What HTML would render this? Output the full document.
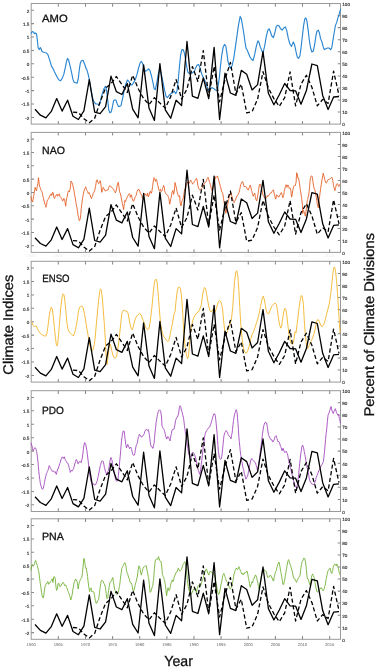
<!DOCTYPE html>
<html><head><meta charset="utf-8"><style>
html,body{margin:0;padding:0;background:#fff;}
svg{display:block;text-rendering:geometricPrecision;}
.tl{font:4.6px "Liberation Sans",sans-serif;fill:#333;stroke:#333;stroke-width:0.15px;text-anchor:end;}
.tr{font:4.6px "Liberation Sans",sans-serif;fill:#333;stroke:#333;stroke-width:0.15px;}
.yr{font:4.2px "Liberation Sans",sans-serif;fill:#666;text-anchor:middle;}
.pn{font:10.6px "Liberation Sans",sans-serif;fill:#111;stroke:#111;stroke-width:0.3px;}
.ax{font:14px "Liberation Sans",sans-serif;fill:#111;stroke:#111;stroke-width:0.3px;}
</style></head><body>
<svg width="375" height="668" viewBox="0 0 375 668">
<rect x="31.2" y="3.5" width="309.3" height="120.6" fill="none" stroke="#9a9a9a" stroke-width="1"/>
<path d="M58.3 3.5v3.2M58.3 124.1v-3.2M85.5 3.5v3.2M85.5 124.1v-3.2M112.6 3.5v3.2M112.6 124.1v-3.2M139.7 3.5v3.2M139.7 124.1v-3.2M166.9 3.5v3.2M166.9 124.1v-3.2M194 3.5v3.2M194 124.1v-3.2M221.1 3.5v3.2M221.1 124.1v-3.2M248.3 3.5v3.2M248.3 124.1v-3.2M275.4 3.5v3.2M275.4 124.1v-3.2M302.5 3.5v3.2M302.5 124.1v-3.2M329.7 3.5v3.2M329.7 124.1v-3.2M31.2 10.2h2.8M31.2 23.6h2.8M31.2 37h2.8M31.2 50.4h2.8M31.2 63.8h2.8M31.2 77.2h2.8M31.2 90.6h2.8M31.2 104h2.8M31.2 117.4h2.8M340.5 112h-2.8M340.5 100h-2.8M340.5 87.9h-2.8M340.5 75.9h-2.8M340.5 63.8h-2.8M340.5 51.7h-2.8M340.5 39.7h-2.8M340.5 27.6h-2.8M340.5 15.6h-2.8" stroke="#8a8a8a" stroke-width="1.05" fill="none"/>
<text x="29.4" y="12.6" class="tl">2</text>
<text x="29.4" y="26" class="tl">1.5</text>
<text x="29.4" y="39.4" class="tl">1</text>
<text x="29.4" y="52.8" class="tl">0.5</text>
<text x="29.4" y="66.2" class="tl">0</text>
<text x="29.4" y="79.6" class="tl">-0.5</text>
<text x="29.4" y="93" class="tl">-1</text>
<text x="29.4" y="106.4" class="tl">-1.5</text>
<text x="29.4" y="119.8" class="tl">-2</text>
<text x="342.3" y="126.4" class="tr">0</text>
<text x="342.3" y="114.3" class="tr">10</text>
<text x="342.3" y="102.3" class="tr">20</text>
<text x="342.3" y="90.2" class="tr">30</text>
<text x="342.3" y="78.2" class="tr">40</text>
<text x="342.3" y="66.1" class="tr">50</text>
<text x="342.3" y="54" class="tr">60</text>
<text x="342.3" y="42" class="tr">70</text>
<text x="342.3" y="29.9" class="tr">80</text>
<text x="342.3" y="17.9" class="tr">90</text>
<text x="342.3" y="5.8" class="tr">100</text>
<polyline points="31,33.6 32.3,31.5 33.4,32 34.5,33.6 35.8,33.1 36.6,34.4 37.4,40.8 38.2,48 39.3,49.6 40.3,47.5 41.1,48.8 41.9,51.2 43,52 44.6,52.5 46.2,52.8 47.8,54.4 48.9,57.6 50.2,61.6 51.5,66.4 52.6,67.7 54.2,71.2 55.8,74.4 57.4,77.6 59,80 60.6,80.8 62.2,78.4 63.8,74.4 65.4,67.2 66.5,61.6 67.5,58.4 68.6,60 70.2,66.4 71.8,73.6 72.9,79.2 74.2,82.4 75.8,82.7 77.1,83.2 78.2,79.2 79.3,69.6 80.3,63.2 81.4,60.8 83,60.3 84.6,64 86.2,68.8 86.6,68.8 88.2,74.4 89.5,80.8 91.1,90.4 92.7,98.4 94.3,102.4 95.9,104 97.5,104 99.4,104.8 100.7,100 102.3,93.6 103.9,88.8 105.5,86.4 106.6,90.4 107.7,100 108.7,109.6 109.8,112.8 111.1,112 112.2,108 113.5,100.8 114.6,100 115.9,100 117,103.2 118.3,106.4 119.9,106.4 121,105.6 122.6,98.4 124.2,90.4 125.8,84 127.4,80 129,81.6 130.6,84.8 132.2,84.8 133.8,82.4 135.4,79.2 137,74.4 138.6,68 140.3,62.4 141.4,61.3 142.5,63.2 143.8,68 145.4,71.2 147,70.4 148.6,68.8 149.9,70.4 151.5,76 153.1,83.2 154.2,88.8 155.3,89.6 156.6,84 157.9,76 159,71.2 160.1,69.6 161.4,74.4 163,82.4 164.6,90.4 166.2,96.8 167.5,97.6 169.1,95.2 171,93.6 172.6,92.8 174.2,91.2 175.8,93.6 177.1,90.4 178.2,80.8 179.3,68 180.6,55.2 181.9,49.6 183,49.6 184.1,52 185.4,58.4 186.7,66.4 187.8,72 189.4,73.6 191,72.8 192.6,72.8 194.2,71.2 194.3,71.6 195.4,68.4 197,65.2 198.6,64.4 199.7,66.8 201,71.6 202.3,75.6 203.9,78.8 205.5,82 207.1,86.8 208.7,90 210.3,89.2 211.9,87.6 213.5,88.4 215.4,90 217,90.8 218.3,85.2 219.4,77.2 220.5,66 221.8,54.8 223.1,47.6 224.5,44.4 225.8,46 226.9,53.2 227.9,61.2 229,65.2 230.6,68.4 232.2,65.2 233.8,58 235.4,46.8 237,35.6 238.6,24.4 240.2,16.4 241.3,18.8 242.6,26 243.9,34 245,42 246.1,48.4 247,49.6 248.3,52.8 249.9,56.8 251.5,59.2 253.1,60.5 254.7,54.4 256.3,46.4 257.9,40.8 259,42.4 260.1,46.4 261.7,50.4 263,52.8 264.6,46.4 266.2,36.8 267.8,30.4 269.1,28.8 270.2,31.2 271.8,36 273.4,37.6 275,32 276.3,26.4 277.7,25.3 279,25.9 280.6,28.8 282.2,30.1 283.8,28 285.4,26.9 286.7,30.4 288.3,38.4 289.9,44 291.5,46.4 293.3,41.9 294.6,44.8 295.9,51.2 297.2,56.8 298.6,58.4 299.9,56 301,48 302.3,36.8 303.6,25.6 304.8,18.9 305.8,17.9 306.9,20.8 308.2,30.4 309.3,40 310.6,48 311.9,52 313.2,51.2 314.6,44.8 315.9,36 317,31.2 318.3,30.1 319.4,32.8 320.5,38.4 321.8,41.6 323.1,46.4 324.2,49.6 325.8,48.8 327.4,48 329,48 330.6,49.6 331.7,48 333,40 334.3,32 335.4,25.6 336.7,22.4 337.8,18.4 339.1,14.4 340.2,10.4 340.7,8.8" fill="none" stroke="#2b86d1" stroke-width="1.15" stroke-linejoin="round"/>
<polyline points="73,112.2 78.4,112.6 83.9,118.7 89.3,122.7 94.7,118.2 100.1,101.9 105.6,88 111,83.7 116.4,76.5 121.9,84.5 127.3,92.5 132.7,75.2 138.1,88.5 143.6,98.6 149,104.6 154.4,97.6 159.9,103.1 165.3,108.1 170.7,96.6 176.1,79.5 181.6,99.1 187,89 192.4,66.6 197.9,81.5 203.3,50.6 208.7,97 214.1,66.4 219.6,101.8 225,79.3 230.4,62.4 235.9,93.7 241.3,84.1 246.7,112.9 252.1,111.6 257.6,99.1 263,71.7 268.4,88.1 273.9,98.6 279.3,106.4 284.7,97.6 290.1,72 295.6,105.8 301,84.1 306.4,75.3 311.9,87.3 317.3,105.8 322.7,99.4 328.1,103.4 333.6,71.2 339,95.4" fill="none" stroke="#000" stroke-width="1.3" stroke-dasharray="4.2 2.5" stroke-linejoin="round"/>
<polyline points="35,109.3 40.4,115.2 45.9,117.9 51.3,111.4 56.7,98.6 62.1,111.1 67.6,100.2 73,116.3 78.4,119.5 83.9,110.9 89.3,79.7 94.7,112.1 100.1,113.7 105.6,106.7 111,76.2 116.4,91.7 121.9,94.5 127.3,83.5 132.7,109.1 138.1,117.8 143.6,64.9 149,108.1 154.4,120.4 159.9,63.6 165.3,109.8 170.7,118.2 176.1,100.2 181.6,105.5 187,41.5 192.4,96.1 197.9,98.3 203.3,78 208.7,98.6 214.1,47.4 219.6,119.5 225,73.1 230.4,93 235.9,95.4 241.3,70.4 246.7,74.3 252.1,90 257.6,84.6 263,51.7 268.4,93.3 273.9,104.8 279.3,94.8 284.7,83.5 290.1,90.5 295.6,90.8 301,104.2 306.4,90.5 311.9,64 317.3,65.6 322.7,95.4 328.1,109.5 333.6,97 339,96.5" fill="none" stroke="#000" stroke-width="1.3" stroke-linejoin="round"/>
<text x="42.1" y="22.1" class="pn" textLength="25.6" lengthAdjust="spacingAndGlyphs">AMO</text>
<rect x="31.2" y="132.4" width="309.3" height="120" fill="none" stroke="#9a9a9a" stroke-width="1"/>
<path d="M58.3 132.4v3.2M58.3 252.4v-3.2M85.5 132.4v3.2M85.5 252.4v-3.2M112.6 132.4v3.2M112.6 252.4v-3.2M139.7 132.4v3.2M139.7 252.4v-3.2M166.9 132.4v3.2M166.9 252.4v-3.2M194 132.4v3.2M194 252.4v-3.2M221.1 132.4v3.2M221.1 252.4v-3.2M248.3 132.4v3.2M248.3 252.4v-3.2M275.4 132.4v3.2M275.4 252.4v-3.2M302.5 132.4v3.2M302.5 252.4v-3.2M329.7 132.4v3.2M329.7 252.4v-3.2M31.2 139.1h2.8M31.2 152.4h2.8M31.2 165.7h2.8M31.2 179.1h2.8M31.2 192.4h2.8M31.2 205.7h2.8M31.2 219.1h2.8M31.2 232.4h2.8M31.2 245.7h2.8M340.5 240.4h-2.8M340.5 228.4h-2.8M340.5 216.4h-2.8M340.5 204.4h-2.8M340.5 192.4h-2.8M340.5 180.4h-2.8M340.5 168.4h-2.8M340.5 156.4h-2.8M340.5 144.4h-2.8" stroke="#8a8a8a" stroke-width="1.05" fill="none"/>
<text x="29.4" y="141.5" class="tl">2</text>
<text x="29.4" y="154.8" class="tl">1.5</text>
<text x="29.4" y="168.1" class="tl">1</text>
<text x="29.4" y="181.5" class="tl">0.5</text>
<text x="29.4" y="194.8" class="tl">0</text>
<text x="29.4" y="208.1" class="tl">-0.5</text>
<text x="29.4" y="221.5" class="tl">-1</text>
<text x="29.4" y="234.8" class="tl">-1.5</text>
<text x="29.4" y="248.1" class="tl">-2</text>
<text x="342.3" y="254.7" class="tr">0</text>
<text x="342.3" y="242.7" class="tr">10</text>
<text x="342.3" y="230.7" class="tr">20</text>
<text x="342.3" y="218.7" class="tr">30</text>
<text x="342.3" y="206.7" class="tr">40</text>
<text x="342.3" y="194.7" class="tr">50</text>
<text x="342.3" y="182.7" class="tr">60</text>
<text x="342.3" y="170.7" class="tr">70</text>
<text x="342.3" y="158.7" class="tr">80</text>
<text x="342.3" y="146.7" class="tr">90</text>
<text x="342.3" y="134.7" class="tr">100</text>
<polyline points="31,196.5 31.4,199.2 31.9,201 32.6,202 33.3,198 33.8,195.3 34.2,192.8 34.6,190.6 35.1,187.4 35.8,189.5 36.5,190.9 37.2,186.7 37.9,183.4 38.5,177.7 39,181.9 39.5,186.5 40,186.8 40.4,188.4 41.1,190.4 41.9,191.6 42.3,192.9 42.7,194.8 43.2,197.4 43.6,198.9 44.3,202 45.1,204.3 45.5,205.5 45.9,207.3 46.5,205.4 47,201.2 47.7,199.8 48.2,199.3 48.6,198.8 49.3,196.9 49.8,195.9 50.2,194.8 50.6,194.9 51.1,193.8 51.8,195.5 52.5,192.3 53.2,192.7 53.9,197.3 54.5,198.6 55.2,196.7 55.6,196.1 56.1,195 56.5,195 56.9,194.2 57.7,196.2 58.4,195.5 58.8,194.3 59.3,193.8 60,196.3 60.4,197 60.9,197.5 61.3,198.4 61.7,198.6 62.5,200.9 63.2,200.5 63.9,198.4 64.6,199.2 65.1,202.9 65.7,206.2 66.2,201.4 66.6,198.9 67.1,196.9 67.8,192.7 68.5,190.8 69,191.4 69.4,192 69.8,190.3 70.3,187.9 71,181 71.4,182 71.9,182.5 72.6,184.2 73.1,186.7 73.7,189.1 74.2,192.1 74.7,195.3 75.3,198.3 75.8,201.2 76.3,204.8 76.9,207.3 77.6,211.9 78,215 78.5,217.3 78.9,219 79.3,220.7 80.1,219.4 80.8,214.5 81.2,208.7 81.7,204.7 82.2,201 82.7,197.4 83.3,194.5 83.8,191.9 84.3,190 84.9,188.5 85.3,187.8 85.7,186.8 86.5,189.9 87,190.6 87.5,191.3 88.3,193.7 88.7,193.2 89.1,192.5 89.6,193.6 90,194.8 90.7,197.1 91.5,198.7 91.9,197.7 92.3,196.4 92.8,195 93.2,193.4 93.9,192.2 94.7,190.9 95.1,188.7 95.5,186.6 96,183.9 96.4,180.7 97.1,179.7 97.9,182.2 98.3,182.6 98.7,183.6 99.2,182.5 99.6,182.3 100.3,180.7 101.1,185.8 101.7,192.3 102.5,190.4 103.2,187.4 103.6,188 104.1,189 104.5,189.6 104.9,190.8 105.7,190.8 106.4,190 106.8,190.1 107.3,190.5 107.7,189.7 108.1,189.9 108.5,188.6 109,187 109.5,185.8 109.9,185.6 110.5,186 111,186.5 111.5,187.4 112.1,188.2 112.6,188.1 113.1,188.9 113.7,189.6 114.2,190.8 114.7,191.2 115.3,192.9 115.7,192.1 116.1,191.1 116.9,187 117.6,183.6 118.3,182.3 118.9,186.3 119.5,191.3 120,192.8 120.4,193.6 121.1,197 121.9,201 122.3,203.5 122.7,205 123.2,207.1 123.6,209.7 124.3,203.7 124.9,200.5 125.6,201.6 126,199.7 126.5,199 127.2,197.2 127.6,196.3 128.1,195.6 128.5,194.3 128.9,194.1 129.7,193.8 130.4,197.3 130.8,196.4 131.3,194.9 131.7,196 132.1,198.4 132.9,200.7 133.6,201.4 134,200.1 134.5,198.9 134.9,197.8 135.3,196.6 136.1,195.5 136.8,192.6 137.2,191.3 137.7,190.1 138.1,190.1 138.5,189 139.3,190 140,191.9 140.4,193.3 140.9,194.2 141.3,194.3 141.7,195.5 142.5,198.3 143.2,197.5 143.6,196.2 144.1,194.6 144.5,193.7 144.9,193.4 145.7,195.2 146.2,195.8 146.7,195.7 147.5,193.1 147.9,195 148.3,196.9 149,195.3 149.6,192.4 150,192.4 150.5,191.1 151,193.4 151.4,193.1 151.9,191.3 152.6,186.6 153.3,181 154,177.6 154.7,178.7 155.5,181.3 155.9,179.9 156.3,179.2 156.8,180.5 157.2,182.5 157.9,185.6 158.7,189.6 159.1,190.6 159.5,190.6 160,189.8 160.4,189 161.1,191.5 161.9,190.9 162.3,189.8 162.7,188.2 163.2,186.9 163.6,185.5 164.3,187.2 164.9,191.7 165.3,192.4 165.7,193.3 166.5,194.5 167.2,194.7 167.6,195.1 168.1,196.3 168.5,197.4 168.9,198.8 169.7,204.2 170.4,201.6 170.8,198.5 171.3,197.1 171.7,194.4 172.1,192.2 172.9,190.4 173.6,194.3 174.3,191.3 175,182.5 175.7,185.1 176.4,188 177.1,191.8 177.9,194.5 178.3,196.1 178.7,196.5 179.2,196.9 179.6,195.7 180.3,203.9 181.1,205.9 181.5,203.1 181.9,200.9 182.4,200.4 182.8,199.2 183.5,197.1 184.3,191.6 184.9,188.9 185.7,187.9 186.2,185.5 186.7,184.2 187.3,183 187.8,181.8 188.3,182.1 188.9,183.5 189.6,182 190,181.5 190.5,180 191,180.6 191.4,181.6 191.9,182.5 192.6,184.2 193.3,183.3 193.8,182.7 194.2,181.7 194.6,181.5 195.1,180.7 195.8,179.1 196.5,178.3 197.2,180.7 197.9,185.7 198.7,188.3 199.1,189.1 199.5,189.6 200.1,190 200.6,189.3 201.1,188.7 201.7,188.2 202.1,187.7 202.5,187.7 203.3,185.6 204,183.9 204.4,183.4 204.9,183.1 205.3,182.6 205.7,182.1 206.5,180.7 207.2,178.3 207.6,178 208.1,177.3 208.6,178.9 209.3,181.5 209.8,182.6 210.2,184.3 210.6,185.5 211.1,187.7 211.8,190.5 212.5,189.9 213,187.5 213.4,186.3 213.8,184.5 214.3,181.5 215,179.3 215.7,176.8 216.2,177.2 216.6,177.2 217,176.8 217.5,175.9 218.2,178.4 218.9,180.9 219.4,183 219.8,183.9 220.2,186.2 220.7,186.9 221.4,191 222.1,192.2 222.8,193.5 223.5,198.4 224.3,203.7 224.7,206.4 225.1,209 225.8,213.2 226.4,211 226.8,208.3 227.3,206.5 227.7,204 228.1,202.5 228.5,200.6 229,198.3 229.5,196.2 229.9,195.3 230.5,194.1 231,192.7 231.4,194.3 231.9,196.3 232.6,199 233.3,201.1 233.8,201.8 234.2,202.5 234.6,201.2 235.1,200.8 235.8,199 236.5,197 237,195.9 237.4,195.7 237.8,194.9 238.3,194.4 239,192.4 239.7,189.8 240.2,187.2 240.6,185.1 241,184.3 241.5,182.8 242.2,181.5 242.9,182 243.6,185.2 244.3,187 245.1,186.2 245.5,186.7 245.9,187.1 246.4,187 246.8,187.9 247.5,189.4 248.3,190.2 248.7,189.1 249.1,187.9 249.6,186.7 250,185.1 250.7,186 251.5,190.7 251.9,191.6 252.3,193.3 252.8,194.8 253.2,196.3 253.9,194.4 254.7,193 255.3,196.3 256.1,199.9 256.8,200.9 257.2,198.7 257.7,195.7 258.1,193.4 258.5,190.8 259.3,185.3 260,184 260.4,185.4 260.9,186.8 261.3,187.9 261.7,189.1 262.5,192.4 263.2,195.6 263.6,196.5 264.1,197.2 264.5,197 264.9,198.2 265.7,199.3 266.4,197.3 266.8,196.7 267.3,195.5 267.7,196.7 268.1,196.4 268.9,195.3 269.6,194.1 270,193.6 270.5,192.9 271,193.1 271.4,192.9 271.9,191.7 272.6,190.8 273.3,189.8 273.8,191.8 274.2,194 274.6,195.3 275.1,197.4 275.8,199.1 276.5,194.7 277,195.7 277.4,195.8 277.8,196 278.3,196.7 279,197.1 279.7,195.2 280.2,194.8 280.6,193.3 281,193.3 281.5,192.6 282.2,195.4 282.9,197.8 283.4,196.1 283.8,195.1 284.2,191.6 284.7,189.1 285.4,186.7 286.1,184.7 286.6,186.4 287,187.4 287.4,186.6 287.9,184.9 288.6,186.6 289.3,188.4 289.8,187.9 290.2,188 290.8,190.3 291.5,197.1 292.1,195.1 292.9,189.8 293.6,186.8 294,185.8 294.5,185.2 294.9,185.6 295.3,185.5 296.1,182.1 296.6,172.8 297.1,173.2 297.7,177.3 298.1,178.3 298.5,177.8 299.3,182.3 300,187.4 300.4,190.5 300.9,193 301.3,196.4 301.7,198.7 302.5,205.5 302.6,213.4 303,211.4 303.5,210 304,211.8 304.5,214 304.9,214.6 305.4,216.2 306,211.5 306.5,206.7 307.2,200.9 307.6,199.5 308,197.7 308.7,195 309.1,191.7 309.5,187.8 310.2,179.6 310.6,177.7 311,176.2 311.7,175.9 312.2,176.6 312.9,181.3 313.6,186.3 314.3,188.9 315.1,190.5 315.5,193 315.9,194.7 316.4,197.7 316.8,200.7 317.5,205.3 318.3,207.8 318.7,204.3 319.1,200.2 319.6,196.8 320,193.2 320.7,188.3 321.5,183 321.9,180.3 322.3,178.1 322.8,175.4 323.2,173.2 323.9,176 324.7,179.1 325.1,180.4 325.5,182.3 326,182.7 326.4,183.2 327.1,181.6 327.9,179.8 328.3,179.7 328.7,179.5 329.2,179.5 329.6,179.1 330.3,178.6 331.1,178 331.5,177.8 331.9,177.3 332.4,178.9 332.8,180.7 333.5,185.4 334.3,188.8 334.9,190.6 335.7,187.5 336.4,184.5 336.8,183.8 337.3,183.6 337.7,183.9 338.1,185.2 338.9,186.5 339.6,184.6 340.4,184.1" fill="none" stroke="#e3581c" stroke-width="0.85" stroke-linejoin="round"/>
<polyline points="73,240.6 78.4,241 83.9,247 89.3,251 94.7,246.5 100.1,230.3 105.6,216.5 111,212.2 116.4,205 121.9,213 127.3,221 132.7,203.7 138.1,217 143.6,227 149,233 154.4,226 159.9,231.5 165.3,236.5 170.7,225 176.1,208 181.6,227.5 187,217.5 192.4,195.2 197.9,210 203.3,179.3 208.7,225.4 214.1,195 219.6,230.2 225,207.8 230.4,191 235.9,222.2 241.3,212.6 246.7,241.3 252.1,240 257.6,227.5 263,200.3 268.4,216.6 273.9,227 279.3,234.8 284.7,226 290.1,200.6 295.6,234.2 301,212.6 306.4,203.8 311.9,215.8 317.3,234.2 322.7,227.8 328.1,231.8 333.6,199.8 339,223.8" fill="none" stroke="#000" stroke-width="1.3" stroke-dasharray="4.2 2.5" stroke-linejoin="round"/>
<polyline points="35,237.7 40.4,243.5 45.9,246.2 51.3,239.8 56.7,227 62.1,239.5 67.6,228.6 73,244.6 78.4,247.8 83.9,239.3 89.3,208.2 94.7,240.5 100.1,242.1 105.6,235.1 111,204.7 116.4,220.2 121.9,222.9 127.3,212 132.7,237.5 138.1,246.1 143.6,193.5 149,236.5 154.4,248.7 159.9,192.2 165.3,238.2 170.7,246.5 176.1,228.6 181.6,233.9 187,170.2 192.4,224.5 197.9,226.7 203.3,206.5 208.7,227 214.1,176.1 219.6,247.8 225,201.7 230.4,221.5 235.9,223.8 241.3,199 246.7,202.8 252.1,218.5 257.6,213.1 263,180.4 268.4,221.8 273.9,233.2 279.3,223.2 284.7,212 290.1,219 295.6,219.3 301,232.6 306.4,219 311.9,192.6 317.3,194.2 322.7,223.8 328.1,237.9 333.6,225.4 339,224.9" fill="none" stroke="#000" stroke-width="1.3" stroke-linejoin="round"/>
<text x="42.1" y="154.3" class="pn" textLength="22.9" lengthAdjust="spacingAndGlyphs">NAO</text>
<rect x="31.2" y="261.3" width="309.3" height="120.8" fill="none" stroke="#9a9a9a" stroke-width="1"/>
<path d="M58.3 261.3v3.2M58.3 382.1v-3.2M85.5 261.3v3.2M85.5 382.1v-3.2M112.6 261.3v3.2M112.6 382.1v-3.2M139.7 261.3v3.2M139.7 382.1v-3.2M166.9 261.3v3.2M166.9 382.1v-3.2M194 261.3v3.2M194 382.1v-3.2M221.1 261.3v3.2M221.1 382.1v-3.2M248.3 261.3v3.2M248.3 382.1v-3.2M275.4 261.3v3.2M275.4 382.1v-3.2M302.5 261.3v3.2M302.5 382.1v-3.2M329.7 261.3v3.2M329.7 382.1v-3.2M31.2 268h2.8M31.2 281.4h2.8M31.2 294.9h2.8M31.2 308.3h2.8M31.2 321.7h2.8M31.2 335.1h2.8M31.2 348.5h2.8M31.2 362h2.8M31.2 375.4h2.8M340.5 370h-2.8M340.5 357.9h-2.8M340.5 345.9h-2.8M340.5 333.8h-2.8M340.5 321.7h-2.8M340.5 309.6h-2.8M340.5 297.5h-2.8M340.5 285.5h-2.8M340.5 273.4h-2.8" stroke="#8a8a8a" stroke-width="1.05" fill="none"/>
<text x="29.4" y="270.4" class="tl">2</text>
<text x="29.4" y="283.8" class="tl">1.5</text>
<text x="29.4" y="297.3" class="tl">1</text>
<text x="29.4" y="310.7" class="tl">0.5</text>
<text x="29.4" y="324.1" class="tl">0</text>
<text x="29.4" y="337.5" class="tl">-0.5</text>
<text x="29.4" y="350.9" class="tl">-1</text>
<text x="29.4" y="364.4" class="tl">-1.5</text>
<text x="29.4" y="377.8" class="tl">-2</text>
<text x="342.3" y="384.4" class="tr">0</text>
<text x="342.3" y="372.3" class="tr">10</text>
<text x="342.3" y="360.2" class="tr">20</text>
<text x="342.3" y="348.2" class="tr">30</text>
<text x="342.3" y="336.1" class="tr">40</text>
<text x="342.3" y="324" class="tr">50</text>
<text x="342.3" y="311.9" class="tr">60</text>
<text x="342.3" y="299.8" class="tr">70</text>
<text x="342.3" y="287.8" class="tr">80</text>
<text x="342.3" y="275.7" class="tr">90</text>
<text x="342.3" y="263.6" class="tr">100</text>
<polyline points="31,321.1 32.1,322.5 33.1,325.4 34.1,326.8 35.3,326.1 36.4,326.1 37.4,328.9 38.8,331.1 40.2,333.2 41.7,334.6 43.1,335.3 44.5,336 45.9,336 46.9,333.2 48,326.1 49.2,316.1 50.2,310.5 51.2,307.3 52.3,309 53.4,317.6 54.4,327.5 55.4,337.4 56.3,344.5 57,346 57.7,343.8 58.7,333.2 59.7,320.4 60.8,307.6 62,297.7 63,293.8 64,294.8 64.8,300.5 65.8,310.5 66.8,321.8 67.9,328.9 69.1,331.8 70.5,333.2 71.9,334.6 73.3,336 74.3,333.9 75.3,330.3 76.5,324.7 77.6,317.6 78.6,310.5 79.6,307.3 80.7,306.9 81.1,306.2 81.8,305.9 83,307.6 84.4,313.3 85.8,321.8 87.2,330.3 88.7,338.9 90.1,346 91.5,350.2 92.9,350.2 94.3,344.5 95.3,336 96.3,324.7 97.5,311.9 98.6,300.5 99.6,292 100.6,288.9 101.4,290.6 102.4,299.1 103.4,311.9 104.6,327.5 105.4,341.7 106,353.1 106.6,363 107.1,364.4 107.8,358.8 108.8,348.8 109.7,343.8 110.5,344.5 111.7,350.2 113.1,355.9 114.5,358 115.6,358 116.6,355.9 117.6,350.2 118.8,341.7 119.9,331.8 120.9,321.8 121.9,313.3 123,310.7 124.5,310.2 125.9,311.2 127,311.2 128.1,313.3 129.1,319 130.1,324.7 131.3,328.9 132.4,329.6 133.4,326.1 134.4,321.8 135.5,318.3 136.7,316.1 138.1,314.7 139.5,313.3 140.5,314 141.5,316.1 142.6,319 143.8,321.8 144.8,324.7 145.8,327.5 146.9,328.9 148,329.6 149,328.2 150,323.2 151.1,314.7 152.3,303.4 153.3,292 154.3,283.5 155.1,279.9 156.1,279.2 157.1,282 158,292 159,304.8 160,317.6 160.8,324.7 161.8,330.3 162.8,334.6 163.9,336.7 165.1,338.2 166.5,340.3 167.9,341.7 168.9,340.3 169.9,336 171,330.3 172.2,324.7 173.2,319 174.2,313.3 175,311.9 176.1,300.5 177.1,292 178.1,287.7 179.3,287 180.4,288.4 181.4,294.8 182.4,307.6 183.2,321.8 184.2,336 185.2,347.4 186.4,354.5 187.5,358.8 188.5,355.9 189.5,344.5 190.6,333.2 191.8,324.7 192.8,320.4 193.8,317.6 194.9,315.4 196,314 197,312.6 198.4,311.9 199.9,309 201.3,304.8 202.3,297.7 203.4,290.6 204.5,287.4 205.5,288.4 206.5,293.4 207.7,300.5 208.8,306.2 209.8,310.5 210.8,311.9 211.9,311.2 213.1,309 214.1,310.5 215.1,311.9 216.2,309 217.3,304.8 218.3,301.9 219.3,300.5 220.5,301.2 221.6,304.1 222.6,309 223.7,321.8 224.7,330.3 225.8,334.6 227.3,331.8 228.7,327.5 230.1,323.2 231.5,319 232.7,307.6 233.7,293.4 234.6,280.6 235.8,272.1 236.8,270.7 237.9,276.4 238.9,290.6 239.8,307.6 240.8,324.7 241.8,336 242.9,344.5 244,350.2 245,352.4 246.4,353.1 247.9,350.2 249.3,346 250.7,338.9 252.1,334.6 253.5,331.8 255,327.5 256.4,323.2 257.8,319 259.2,313.3 260.6,306.2 262.1,299.1 263.2,296.2 264.2,299.1 265.3,304.8 266.3,310.5 267.3,313.3 268.5,314 269.6,311.9 270.6,309 271.6,306.9 272.4,305.3 273.8,303.9 275.3,303.2 276.4,304.6 277.4,310.3 278.4,317.4 279.5,324.5 280.7,328.1 281.7,325.9 282.6,318.8 283.8,311.7 284.8,308.2 285.9,309.6 286.9,316 287.8,324.5 288.8,333 289.8,338.7 290.9,343 292,344.4 293,343.7 294,338.7 295.1,331.6 296,333 297.1,324.5 298.1,316 299.1,307.5 300.3,299.6 301.4,295.4 302.4,296.8 303.4,304.6 304.2,318.8 305.2,333 306.2,343 307.4,348.6 308.5,347.2 309.5,344.4 310.9,341.5 312.3,338.7 313.8,334.4 315.2,328.8 316.6,321.7 317.6,319.5 318.7,320.2 319.9,323.1 320.9,325.9 322.3,326.6 323.7,324.5 325.1,320.2 326.5,314.6 328,308.9 329.4,303.2 330.8,293.2 331.9,283.3 332.9,273.4 333.8,267.7 334.6,267 335.5,270.5 336.5,280.5 337.5,293.2 338.3,306 339.3,321.7 340,333" fill="none" stroke="#f3b52a" stroke-width="0.9" stroke-linejoin="round"/>
<polyline points="73,370.2 78.4,370.6 83.9,376.7 89.3,380.7 94.7,376.2 100.1,359.9 105.6,346 111,341.6 116.4,334.4 121.9,342.4 127.3,350.5 132.7,333.1 138.1,346.5 143.6,356.5 149,362.6 154.4,355.5 159.9,361.1 165.3,366.1 170.7,354.5 176.1,337.4 181.6,357 187,347 192.4,324.5 197.9,339.4 203.3,308.5 208.7,354.9 214.1,324.3 219.6,359.8 225,337.2 230.4,320.3 235.9,351.7 241.3,342 246.7,370.9 252.1,369.6 257.6,357 263,329.7 268.4,346.1 273.9,356.5 279.3,364.4 284.7,355.5 290.1,330 295.6,363.8 301,342 306.4,333.2 311.9,345.3 317.3,363.8 322.7,357.3 328.1,361.4 333.6,329.1 339,353.3" fill="none" stroke="#000" stroke-width="1.3" stroke-dasharray="4.2 2.5" stroke-linejoin="round"/>
<polyline points="35,367.3 40.4,373.1 45.9,375.9 51.3,369.4 56.7,356.5 62.1,369.1 67.6,358.1 73,374.2 78.4,377.5 83.9,368.9 89.3,337.6 94.7,370.1 100.1,371.7 105.6,364.7 111,334.1 116.4,349.7 121.9,352.4 127.3,341.4 132.7,367.1 138.1,375.8 143.6,322.8 149,366.1 154.4,378.4 159.9,321.5 165.3,367.8 170.7,376.2 176.1,358.1 181.6,363.5 187,299.4 192.4,354 197.9,356.2 203.3,335.9 208.7,356.5 214.1,305.3 219.6,377.5 225,331.1 230.4,351 235.9,353.3 241.3,328.3 246.7,332.2 252.1,348 257.6,342.5 263,309.6 268.4,351.3 273.9,362.8 279.3,352.7 284.7,341.4 290.1,348.5 295.6,348.8 301,362.2 306.4,348.5 311.9,321.9 317.3,323.5 322.7,353.3 328.1,367.5 333.6,354.9 339,354.4" fill="none" stroke="#000" stroke-width="1.3" stroke-linejoin="round"/>
<text x="42.3" y="281.7" class="pn" textLength="27.2" lengthAdjust="spacingAndGlyphs">ENSO</text>
<rect x="31.2" y="390.7" width="309.3" height="120.8" fill="none" stroke="#9a9a9a" stroke-width="1"/>
<path d="M58.3 390.7v3.2M58.3 511.5v-3.2M85.5 390.7v3.2M85.5 511.5v-3.2M112.6 390.7v3.2M112.6 511.5v-3.2M139.7 390.7v3.2M139.7 511.5v-3.2M166.9 390.7v3.2M166.9 511.5v-3.2M194 390.7v3.2M194 511.5v-3.2M221.1 390.7v3.2M221.1 511.5v-3.2M248.3 390.7v3.2M248.3 511.5v-3.2M275.4 390.7v3.2M275.4 511.5v-3.2M302.5 390.7v3.2M302.5 511.5v-3.2M329.7 390.7v3.2M329.7 511.5v-3.2M31.2 397.4h2.8M31.2 410.8h2.8M31.2 424.3h2.8M31.2 437.7h2.8M31.2 451.1h2.8M31.2 464.5h2.8M31.2 477.9h2.8M31.2 491.4h2.8M31.2 504.8h2.8M340.5 499.4h-2.8M340.5 487.3h-2.8M340.5 475.3h-2.8M340.5 463.2h-2.8M340.5 451.1h-2.8M340.5 439h-2.8M340.5 426.9h-2.8M340.5 414.9h-2.8M340.5 402.8h-2.8" stroke="#8a8a8a" stroke-width="1.05" fill="none"/>
<text x="29.4" y="399.8" class="tl">2</text>
<text x="29.4" y="413.2" class="tl">1.5</text>
<text x="29.4" y="426.7" class="tl">1</text>
<text x="29.4" y="440.1" class="tl">0.5</text>
<text x="29.4" y="453.5" class="tl">0</text>
<text x="29.4" y="466.9" class="tl">-0.5</text>
<text x="29.4" y="480.3" class="tl">-1</text>
<text x="29.4" y="493.8" class="tl">-1.5</text>
<text x="29.4" y="507.2" class="tl">-2</text>
<text x="342.3" y="513.8" class="tr">0</text>
<text x="342.3" y="501.7" class="tr">10</text>
<text x="342.3" y="489.6" class="tr">20</text>
<text x="342.3" y="477.6" class="tr">30</text>
<text x="342.3" y="465.5" class="tr">40</text>
<text x="342.3" y="453.4" class="tr">50</text>
<text x="342.3" y="441.3" class="tr">60</text>
<text x="342.3" y="429.2" class="tr">70</text>
<text x="342.3" y="417.2" class="tr">80</text>
<text x="342.3" y="405.1" class="tr">90</text>
<text x="342.3" y="393" class="tr">100</text>
<polyline points="31,442.8 31.5,444.8 32.1,446.3 32.5,448.6 33,450.6 33.5,449.4 34,448.7 34.5,448.8 35,447.6 35.6,448.2 36.1,449.7 36.6,451.5 37.1,454.2 37.5,457.9 38,462.1 38.4,466.3 38.8,471.5 39.3,475.8 39.8,479.5 40.2,482.4 40.7,485 41.2,486.1 41.8,488.5 42.2,489 42.7,489.4 43.1,488.1 43.5,487.9 44,484.8 44.5,482.4 45,479.8 45.5,477 46,475.5 46.5,473.3 47,472.7 47.4,471.3 47.8,470.8 48.2,469.7 48.7,467.3 49.2,465.6 49.7,466.4 50.1,467.8 50.7,468.3 51.2,469.5 51.7,470.2 52.3,471.4 52.8,470.9 53.2,470.6 53.7,471.5 54.2,472.1 54.7,472.1 55.2,471.6 55.8,473.2 56.3,474.4 56.8,472.5 57.3,470.2 57.7,469 58.2,469 58.7,467.1 59.3,465.1 59.8,463.4 60.4,462.2 60.8,460 61.3,458.9 61.8,458 62.2,457 62.8,457.1 63.3,458.3 63.9,458.1 64.4,456.8 64.9,458.9 65.3,459.8 65.8,460.6 66.3,461.7 66.8,462.6 67.4,463 67.9,463.2 68.4,464.8 68.9,466.2 69.4,468.9 69.9,470.2 70.3,472.4 71,470.5 71.5,470.4 72.1,471.2 72.5,470.2 73,469.6 73.5,468.8 74,466.9 74.5,465 75,463.2 75.6,461.7 76.1,459.6 76.6,459.8 77.1,461 77.5,461.8 78,463.8 78.5,463 79.1,461.8 79.6,461.6 80.2,461.3 80.6,462.1 81.1,462.7 81.6,461 82,459.4 82.4,457 82.9,453.9 83.3,449.8 83.8,446 84.3,444 84.7,442.6 85.3,444.1 85.8,444.5 86.4,447.9 86.9,450.7 87.4,454.5 87.8,458 88.3,462.1 88.8,467.5 89.3,471.5 89.9,475 90.4,478.2 90.9,480.8 91.4,482.3 91.9,483.4 92.3,483.9 92.8,484.2 93.2,483.7 93.7,484 94.1,484.8 94.6,485.3 95,484.4 95.5,484.4 95.9,484.3 96.4,482.9 96.8,481.8 97.3,480.6 97.7,478.4 98.2,476.4 98.6,473.9 99.1,471.7 99.5,469.9 100,466.9 100.4,465.6 100.9,464 101.3,461.8 101.8,461 102.2,460.9 102.8,461 103.3,461.6 103.9,464.6 104.4,467.5 104.9,469 105.3,471.2 105.8,472.2 106.3,473.7 106.8,473 107.4,473.1 107.9,471.4 108.4,470.5 108.9,467.8 109.4,465 109.9,461.9 110.3,459 111,457.5 111.5,459.3 112.1,460.3 112.5,463.6 113,466.3 113.5,468.4 114,471.2 114.5,474.4 115,476.9 115.6,479.1 116.1,480.7 116.6,480.8 117.1,481.3 117.5,480.8 118,479.2 118.4,475.3 118.8,471.3 119.3,465.9 119.8,460.5 120.2,456.3 120.7,450.8 121.1,445.3 121.5,440.8 122,437.4 122.4,434.2 122.9,431.9 123.4,430.8 123.8,431.4 124.2,431.4 124.7,435.6 125.1,439.4 125.8,444.6 126.5,447.8 127.2,445.6 127.8,444.3 128.5,446.9 129,447.4 129.5,448.6 129.9,447.6 130.3,447.4 130.7,447 131.2,448.2 131.7,449.7 132.1,451.6 132.5,453.3 133,454.9 133.4,455.3 133.9,455.4 134.4,455.1 134.8,453.5 135.3,450.3 135.8,447.3 136.2,445.8 136.6,444.4 137.1,443.5 137.5,441.9 137.9,439.6 138.3,437.5 138.8,436.4 139.3,434.3 139.8,435.3 140.4,435.5 140.8,436.1 141.3,437.1 141.8,437 142.2,436 142.8,436 143.3,435.4 143.9,434.3 144.4,433.3 144.9,431.2 145.3,430.4 145.8,430.3 146.3,429.2 146.8,429.7 147.4,430.1 147.9,430 148.4,429.6 148.9,432.3 149.4,435.3 149.9,438.6 150.3,442.7 151,446.2 151.5,446.5 152.1,446.8 152.5,448.1 153,448.3 153.5,445.5 154,443.9 154.5,438.3 155,432.9 155.6,427.6 156.1,422.5 156.6,419.7 157.1,416.8 157.5,414.6 158,412.7 158.4,411.2 158.8,410.3 159.3,410.3 159.8,409.8 160.2,410.3 160.7,411.2 161.1,414.1 161.5,417 162,426 162.4,426.6 162.9,428 163.3,428.5 163.8,429 164.3,430.3 164.7,431.7 165.3,434.3 165.8,436.4 166.3,438 166.8,439.1 167.4,436.9 167.8,436.8 168.2,436.7 168.7,437.4 169.2,439.1 169.7,439.8 170.1,440.9 170.5,438.6 170.9,435.7 171.4,433.5 171.9,430.7 172.3,429.8 172.8,429.7 173.4,429 173.9,429.4 174.4,427.2 174.8,425.4 175.2,423 175.6,420.5 176.1,419.2 176.6,417.7 177.1,416.9 177.5,417 178.1,415.1 178.6,413.9 179.3,407.8 180,405.7 180.4,406.4 180.9,407.1 181.3,409.9 181.7,411.2 182.2,412.4 182.6,414.6 183.1,415.9 183.6,418.6 184,421.8 184.4,425.4 184.9,428.8 185.3,431.8 185.8,434.7 186.3,436.7 186.7,440.8 187.1,443.9 187.6,446.8 188,448.9 188.5,452.2 189,455.1 189.5,455.2 190.1,456.5 190.5,457.1 191,457.7 191.5,455.1 192.1,453 192.5,452.5 193,452.3 193.5,453 194,453.2 194.5,454.5 195,455.9 195.6,457.9 196.1,460 196.6,462 197.1,464.7 197.5,467.2 198,468.7 198.4,470.7 198.8,471.8 199.3,473.4 199.8,474.4 200.2,472 200.7,469.5 201.2,464.7 201.8,460.2 202.3,455.7 202.9,450.3 203.3,446.8 203.8,444.1 204.3,440.2 204.7,435.8 205.3,433.7 205.8,432 206.4,430.8 206.9,430.2 207.4,429.4 207.8,429.1 208.3,428.2 208.8,427.4 209.3,427.2 209.9,426.8 210.4,424.8 210.9,423.9 211.4,421.9 211.9,420.7 212.3,418.7 212.8,416.7 213.4,415.3 213.9,413.8 214.4,414.1 214.8,413.9 215.2,415.8 215.6,418.1 216.1,422.8 216.6,428 217.1,433.4 217.5,440.3 217.9,445.2 218.3,450.7 218.8,453.9 219.3,457.7 219.8,458.7 220.4,459.4 220.8,459 221.3,458.9 221.8,456.3 222.2,453.2 222.6,448.8 223.1,444.3 223.5,439.8 224,435.5 224.5,433.8 224.9,432.6 225.5,431.5 226,430.6 226.5,431.3 227,431.5 227.5,432.8 228,434.2 228.5,434.8 229,436 229.5,436.5 230.1,436.9 230.5,437.2 231,438.8 231.5,435.6 232.1,433 232.5,429.3 233,424.6 233.5,420.6 234,417.3 234.5,414.7 235,412.8 235.6,411.3 236.1,409.7 236.6,410.7 237.1,412.7 237.5,418.2 238,423.7 238.4,429.4 238.8,435.9 239.3,441.6 239.8,446.5 240.2,450.7 240.7,454.3 241.2,457.8 241.8,461.5 242.3,463.7 242.9,467.2 243.3,469.2 243.8,470.4 244.3,473.3 244.7,474.7 245.3,477.1 245.8,479.1 246.4,478 246.9,477.7 247.4,476.3 247.8,475.2 248.4,471.9 248.9,469.7 249.4,467.2 249.9,464.2 250.4,462.1 250.9,459.6 251.4,459.4 251.9,458.5 252.3,459.6 252.8,460.2 253.4,460.8 253.9,461.1 254.4,461.9 255,462.2 255.4,462.7 255.9,464.5 256.4,466.2 256.9,467.7 257.3,469.9 257.7,470.4 258.1,467.9 258.6,465.6 259.1,461.5 259.6,457.4 260.1,453.4 260.6,449.2 261.2,445 261.7,440.9 262.2,436.7 262.6,433.3 263.1,430 263.6,426.4 264.1,424.9 264.7,422.9 265.2,422.4 265.7,422.2 266.2,423.4 266.7,423.2 267.2,426.4 267.6,428.8 268,432 268.4,434.3 268.9,435.6 269.4,437 269.9,437.9 270.3,438.8 271,439 271.5,440.2 272.1,440.1 272.5,441.3 273,442.1 273.5,440.8 274,440.1 274.5,438.7 275,436.8 275.6,436.2 276.1,435.7 276.6,437.4 277.1,438.8 277.5,440.4 278,441.9 278.5,441.5 279.1,441.8 279.6,443.2 280.2,445.2 280.6,446.6 281.1,447.6 281.6,449 282,450.9 282.6,448.8 283.1,448.2 283.7,450 284.2,451.7 284.6,451.8 285,452.6 285.6,451.9 286.2,451.2 286.8,452.7 287.3,453.5 287.9,455.9 288.4,459.1 289,461.8 289.6,465.1 290.3,467.5 290.9,469.1 291.4,472.2 292,474.4 292.5,476.5 293,478.9 293.7,481.2 294.3,483.2 294.9,485.1 295.5,486.1 296.1,487.4 296.6,488.3 297,486.2 297.4,484.4 298,479.7 298.6,474.6 299.2,468.5 299.7,463.7 300.2,458.9 300.8,453.7 301.4,450.1 302,446.1 302.4,445.4 302.8,445.2 303.2,447 303.6,447.8 304.2,451.4 304.8,454.3 305.3,456.9 305.9,460.7 306.4,463.5 307,466.9 307.6,469.8 308.2,472.9 308.8,475.6 309.4,479.2 310,480.9 310.5,482.3 311.1,482.7 311.6,483.8 312.2,484.1 312.8,484.4 313.5,484.4 314.1,484.6 314.6,483.2 315.2,481.6 315.7,479.6 316.2,477.5 316.9,475.8 317.5,474.2 318.1,472.8 318.7,470.9 319.3,469.9 319.8,469.1 320.3,467.6 320.9,466.2 321.5,465.7 322.1,464.4 322.7,462.9 323.4,461.7 323.9,457.3 324.4,452.7 325,446.1 325.5,439.7 326.1,433.7 326.8,428.1 327.4,421.3 328,415.4 328.5,414 329.1,412.9 329.6,410.9 330.2,409.2 330.6,407.8 331.1,406.5 331.6,408.9 332.2,411.3 332.7,412.7 333.3,413.5 333.7,411.9 334.2,410.8 334.7,409.6 335.3,408.7 335.8,410 336.3,412.3 336.8,413.4 337.3,414.2 337.8,415.2 338.4,414.4 338.9,416.2 339.4,418.5 339.9,420.5 340.4,423.2" fill="none" stroke="#9d3fb8" stroke-width="0.85" stroke-linejoin="round"/>
<polyline points="73,499.6 78.4,500 83.9,506.1 89.3,510.1 94.7,505.6 100.1,489.3 105.6,475.4 111,471 116.4,463.8 121.9,471.8 127.3,479.9 132.7,462.5 138.1,475.9 143.6,485.9 149,492 154.4,484.9 159.9,490.5 165.3,495.5 170.7,483.9 176.1,466.8 181.6,486.4 187,476.4 192.4,453.9 197.9,468.8 203.3,437.9 208.7,484.3 214.1,453.7 219.6,489.2 225,466.6 230.4,449.7 235.9,481.1 241.3,471.4 246.7,500.3 252.1,499 257.6,486.4 263,459.1 268.4,475.5 273.9,485.9 279.3,493.8 284.7,484.9 290.1,459.4 295.6,493.2 301,471.4 306.4,462.6 311.9,474.7 317.3,493.2 322.7,486.7 328.1,490.8 333.6,458.5 339,482.7" fill="none" stroke="#000" stroke-width="1.3" stroke-dasharray="4.2 2.5" stroke-linejoin="round"/>
<polyline points="35,496.7 40.4,502.5 45.9,505.3 51.3,498.8 56.7,485.9 62.1,498.5 67.6,487.5 73,503.6 78.4,506.9 83.9,498.3 89.3,467 94.7,499.5 100.1,501.1 105.6,494.1 111,463.5 116.4,479.1 121.9,481.8 127.3,470.8 132.7,496.5 138.1,505.2 143.6,452.2 149,495.5 154.4,507.8 159.9,450.9 165.3,497.2 170.7,505.6 176.1,487.5 181.6,492.9 187,428.8 192.4,483.4 197.9,485.6 203.3,465.3 208.7,485.9 214.1,434.7 219.6,506.9 225,460.5 230.4,480.4 235.9,482.7 241.3,457.7 246.7,461.6 252.1,477.4 257.6,471.9 263,439 268.4,480.7 273.9,492.2 279.3,482.1 284.7,470.8 290.1,477.9 295.6,478.2 301,491.6 306.4,477.9 311.9,451.3 317.3,452.9 322.7,482.7 328.1,496.9 333.6,484.3 339,483.8" fill="none" stroke="#000" stroke-width="1.3" stroke-linejoin="round"/>
<text x="42" y="413.7" class="pn" textLength="21.9" lengthAdjust="spacingAndGlyphs">PDO</text>
<rect x="31.2" y="518.8" width="309.3" height="120.5" fill="none" stroke="#9a9a9a" stroke-width="1"/>
<path d="M58.3 518.8v3.2M58.3 639.3v-3.2M85.5 518.8v3.2M85.5 639.3v-3.2M112.6 518.8v3.2M112.6 639.3v-3.2M139.7 518.8v3.2M139.7 639.3v-3.2M166.9 518.8v3.2M166.9 639.3v-3.2M194 518.8v3.2M194 639.3v-3.2M221.1 518.8v3.2M221.1 639.3v-3.2M248.3 518.8v3.2M248.3 639.3v-3.2M275.4 518.8v3.2M275.4 639.3v-3.2M302.5 518.8v3.2M302.5 639.3v-3.2M329.7 518.8v3.2M329.7 639.3v-3.2M31.2 525.5h2.8M31.2 538.9h2.8M31.2 552.3h2.8M31.2 565.7h2.8M31.2 579h2.8M31.2 592.4h2.8M31.2 605.8h2.8M31.2 619.2h2.8M31.2 632.6h2.8M340.5 627.2h-2.8M340.5 615.2h-2.8M340.5 603.1h-2.8M340.5 591.1h-2.8M340.5 579h-2.8M340.5 567h-2.8M340.5 554.9h-2.8M340.5 542.9h-2.8M340.5 530.8h-2.8" stroke="#8a8a8a" stroke-width="1.05" fill="none"/>
<text x="29.4" y="527.9" class="tl">2</text>
<text x="29.4" y="541.3" class="tl">1.5</text>
<text x="29.4" y="554.7" class="tl">1</text>
<text x="29.4" y="568.1" class="tl">0.5</text>
<text x="29.4" y="581.4" class="tl">0</text>
<text x="29.4" y="594.8" class="tl">-0.5</text>
<text x="29.4" y="608.2" class="tl">-1</text>
<text x="29.4" y="621.6" class="tl">-1.5</text>
<text x="29.4" y="635" class="tl">-2</text>
<text x="342.3" y="641.6" class="tr">0</text>
<text x="342.3" y="629.5" class="tr">10</text>
<text x="342.3" y="617.5" class="tr">20</text>
<text x="342.3" y="605.4" class="tr">30</text>
<text x="342.3" y="593.4" class="tr">40</text>
<text x="342.3" y="581.3" class="tr">50</text>
<text x="342.3" y="569.3" class="tr">60</text>
<text x="342.3" y="557.2" class="tr">70</text>
<text x="342.3" y="545.2" class="tr">80</text>
<text x="342.3" y="533.1" class="tr">90</text>
<text x="342.3" y="521.1" class="tr">100</text>
<polyline points="31,570.4 31.6,565.5 32,565.2 32.4,564.4 32.9,564.9 33.4,565.8 33.9,565.5 34.4,564.5 34.8,562.9 35.2,560.8 35.8,560.6 36.4,562.7 36.8,564.1 37.2,565.5 37.9,568 38.4,570.3 38.8,571.7 39.2,574.9 39.6,578.2 40.3,583.6 40.8,586.7 41.2,590 41.6,592.5 42,595.1 42.7,597.5 43.3,597.8 43.9,594.8 44.4,590.1 45.1,586.3 45.6,585 46,584.5 46.4,583.4 46.8,583.8 47.3,582.8 47.8,581.5 48.2,582.5 48.6,584.3 49.1,583.4 49.6,583.1 50,582.5 50.4,581.5 50.9,580.8 51.4,580.4 51.8,579.6 52.2,578.7 52.9,582.5 53.3,580.3 53.8,576.8 54.2,576.5 54.6,576.8 55.3,578.9 55.9,586.3 56.5,590.4 56.9,589.4 57.3,589.2 58.1,583.6 58.8,583.2 59.5,586 59.9,586.7 60.3,586.6 60.8,585.8 61.2,585.4 61.7,584 62.1,583.4 62.6,583.4 63,582.3 63.5,582.8 63.9,583.6 64.4,585.1 64.8,585.8 65.3,585.1 65.7,584.9 66.1,585.9 66.6,587.4 67.3,588.8 67.7,590.4 68.1,591.5 68.6,592.8 69.1,593.7 69.5,595.8 69.9,596.5 70.3,598 70.8,600 71.4,597.7 72,595.2 72.4,593.1 72.8,590 73.2,587.8 73.6,584.9 74.1,583 74.6,581.4 75.1,579.9 75.6,579 76,580.2 76.4,580.1 76.8,581 77.2,582.2 77.7,585.3 78.2,589 78.6,586.1 79,583.7 79.5,581.7 80,580.8 80.4,579.6 80.8,578.8 81.3,578 81.8,577.4 82.5,572.7 83.2,564.9 83.9,558.4 84.4,560 84.8,562.3 85.4,566.8 85.9,568.3 86.3,567.9 86.7,570.8 87.2,573.4 87.6,576.6 88,580.8 88.7,586.3 89.1,588.7 89.6,591.6 90,589.7 90.4,588.6 91.1,587.8 91.5,590.3 92,592 92.4,591.7 92.8,591.2 93.3,591.7 93.8,592 94.2,593.8 94.6,595.6 95,598.7 95.4,600.3 96.1,603.2 96.6,603.2 97,601.9 97.5,601.8 97.9,600.6 98.4,599.9 98.8,598.4 99.5,592.6 99.9,589.6 100.3,586.3 100.8,583.4 101.2,581.2 101.9,580.1 102.3,580.4 102.7,580.8 103.2,581.3 103.6,582.9 104.1,583.6 104.5,584 105,586 105.4,587.5 105.8,590.6 106.2,593.7 106.9,598.6 107.3,598.4 107.8,597.6 108.2,593 108.7,590.4 109.1,587.4 109.6,584.1 110,582.2 110.5,581.9 111,581.1 111.5,580.8 112,579.3 112.4,578 112.8,577.5 113.2,580.4 113.6,582.8 114.1,586 114.6,589.2 115.1,590.2 115.6,591.7 116,593.9 116.4,594.1 116.8,594.5 117.2,593.1 117.7,593.2 118.2,592.6 118.7,590.3 119.1,587.5 119.6,585.5 120,582.4 120.4,579.3 120.8,575.3 121.3,572.3 121.8,568.6 122.2,567.4 122.6,566.6 123.3,565.4 123.8,564.2 124.2,563.6 124.6,562.9 125,562.7 125.7,564.8 126.1,567.3 126.6,570.6 127,572.5 127.4,573.7 127.8,574.1 128.2,575.9 129,578.3 129.4,579.2 129.8,581.5 130.2,582 130.6,583 131.4,583.1 131.8,584.5 132.2,586.3 132.9,590.4 133.3,590 133.8,590.7 134.2,589.4 134.6,587.9 135,585.7 135.4,583.8 135.9,582.5 136.4,580.6 136.9,578 137.3,577.1 137.8,572.8 138.2,569.3 138.6,568.1 139,565.8 139.4,567.2 139.9,567.4 140.3,570.8 140.7,572.8 141.4,575.1 142.1,571.9 142.6,569.9 143,568.4 143.7,567 144.1,567.1 144.5,566.6 145,566.3 145.4,566 145.8,565.6 146.2,565.6 146.9,569.5 147.3,571.4 147.8,574 148.2,576.5 148.6,577.7 149.3,584.2 149.7,588.6 150.2,592.4 150.6,591.9 151,591.2 151.5,589.1 152,587.9 152.4,586.3 152.8,585.5 153.2,581.9 153.6,579.5 154.4,568.6 154.8,564.9 155.2,561.1 155.6,559.8 156,559.6 156.5,558.9 157,558.9 157.4,558.9 157.8,559.5 158.5,556.6 159,558.5 159.4,559 159.8,560.7 160.2,561 160.6,561.5 161.1,561.6 161.8,567.3 162.4,574.5 162.8,575.4 163.2,576.6 163.7,577.3 164.2,579.3 164.6,580.7 165,582.5 165.4,585.8 165.9,589.4 166.6,595.8 167,592.9 167.4,590.2 168.1,587.8 168.5,589.8 169,590.7 169.4,590.3 169.8,589.3 170.5,585.2 170.9,583.8 171.4,581.8 171.8,581.4 172.2,579.9 172.6,581.1 173,581.7 173.8,579.4 174.2,577.4 174.6,575.9 175,574.7 175.4,574.8 175.9,573 176.4,572 176.9,572.1 177.3,571.5 177.8,569.6 178.2,568 178.6,568.7 179,569.7 179.5,570.7 180,571.2 180.5,570.3 180.9,570 181.4,569.6 181.9,568.1 182.3,567 182.7,565.4 183.2,564.4 183.6,563.6 184.1,562.8 184.5,561.9 185,561.9 185.4,562.8 185.8,565.5 186.2,567.9 186.9,575 187.3,579.6 187.8,583.2 188.2,586.2 188.6,588.8 189.3,590.9 190,593 190.5,593.8 191,594.4 191.5,593.9 192,592.7 192.4,592 192.8,590.7 193.2,589.9 193.6,589.1 194.1,589.5 194.6,588.3 195.1,589.6 195.6,590.1 196,591.1 196.4,592.8 196.8,590.2 197.2,588.7 197.7,587.1 198.2,585.8 198.7,585.2 199.1,584.9 199.6,585.3 200,585.8 200.4,586.2 200.8,584.9 201.3,583.7 201.8,581.7 202.2,580.6 202.6,579.3 203,578.4 203.5,577.1 203.9,575.2 204.4,573.2 204.9,572.1 205.4,571 205.8,569.9 206.2,568.9 206.6,569.1 207,570.5 207.8,573.1 208.2,573.8 208.6,575.1 209,574.7 209.4,572.8 210.2,571.2 210.6,571.8 211.1,572.3 211.5,572 212,572.4 212.4,572.7 212.8,572.6 213.3,574.1 213.8,573.8 214.2,575.4 214.6,575.1 215,577.5 215.4,580.7 215.9,583.1 216.4,584.8 216.9,587.5 217.3,589.9 217.8,592.5 218.3,594.3 218.7,594.4 219.1,594 219.6,591.9 220,590.3 220.5,588 220.9,585 221.4,583.1 221.9,580.7 222.3,578.3 222.7,575.7 223.2,574.7 223.6,573.6 224,573.5 224.4,574.5 224.8,576.2 225.3,577.4 225.7,578.3 226.1,580.4 226.5,580.6 226.9,581.9 227.3,582.3 227.8,582.5 228.2,584.3 228.6,585.2 229.3,587.3 229.7,588.5 230.2,589.1 230.6,588.5 231,587.9 231.5,586.5 232,585.3 232.4,583.4 232.8,581.5 233.2,579.6 233.6,576.5 234.1,573.9 234.6,572.2 235.1,570.7 235.6,569.6 236,569 236.4,568 236.8,568.9 237.2,569.6 237.7,569.5 238.2,568.8 238.6,567.9 239,566.7 239.4,568.6 239.9,569.3 240.6,571.3 241,571.7 241.4,573.5 241.8,573.8 242.3,574.4 243,573.2 243.4,574.6 243.8,574.4 244.2,574 244.7,572.7 245.4,572.4 245.8,572.6 246.2,572.2 246.6,572 247,571.1 247.8,574.2 248.2,576.8 248.6,578.6 249,580.8 249.4,583.2 250.2,587.2 250.6,586.4 251,584.9 251.4,583.5 251.8,581.8 252.6,582.9 253,581.1 253.4,579.3 253.8,578.3 254.2,578.3 255,576 255.4,575 255.8,575.2 256.2,576 256.6,577.4 257.3,580.7 257.8,582.5 258.2,585.2 258.6,586.6 259,588.7 259.7,585.8 260.2,583.6 260.6,581.3 261,579.6 261.4,576.3 262.1,573.4 262.6,571.5 263,571.3 263.4,569.8 263.8,569.1 264.2,569.5 264.7,570.6 265.1,570.6 265.5,571.1 265.9,571.3 266.3,571.5 266.7,573.5 267.2,575.5 267.6,577.2 268.1,577.5 268.6,577 269.1,577.1 269.6,575.7 270,576 270.5,575.3 271,575.6 271.5,576.9 272,578.4 272.4,578.3 272.8,580.1 273.2,579.9 273.6,581.1 274.1,577.7 274.6,575.8 275.1,573.4 275.6,571.6 276,570.8 276.4,570.5 276.8,568.1 277.2,566.5 277.7,564.8 278.2,563.4 278.6,563.5 279,562 279.4,563.8 279.9,566.4 280.6,571.2 281,572.7 281.4,574.8 281.8,576.8 282.3,580.7 283,584.7 283.4,584.4 283.8,584.3 284.2,581.7 284.7,580 285.4,575.1 285.8,573.1 286.2,570.8 286.6,568.4 287,565.8 287.8,561.4 288.2,560.6 288.6,559.6 289,560.6 289.4,562.6 290.2,564.4 290.6,565.6 291,567.2 291.4,568 291.8,569.7 292.6,572.9 293,575.1 293.4,577.5 293.8,578.4 294.2,578.2 295,578.9 295.4,580.8 295.8,581.2 296.2,581.6 296.6,582.4 297.3,580.1 297.8,579.1 298.2,578.4 298.6,577.6 299,576.8 299.7,576.5 300.2,574 300.6,570.6 301,567.3 301.5,564.6 302,561.7 302.4,561.3 302.8,561.1 303.2,559.5 303.6,558.2 304.1,558.7 304.6,558.4 305.1,560.1 305.5,561.9 306,565.7 306.4,569.6 306.8,574.1 307.2,577.8 307.7,579 308.2,579.1 308.7,580.5 309.1,582.8 309.6,584 310.1,585.2 310.6,582.9 311.1,579.7 311.8,575.4 312.2,575.2 312.6,573.9 313,574.7 313.4,575.7 314.2,577.6 314.6,580.2 315,582.4 315.4,585.2 315.8,587.1 316.3,589.1 316.7,591.2 317.1,591.4 317.5,592.1 317.9,591.8 318.4,590.8 318.8,590.2 319.2,589.9 319.7,589.3 320.1,588.5 320.6,588.7 321,587.7 321.4,588.3 321.8,588.2 322.2,589.7 322.7,589.9 323.1,590.7 323.5,590 323.9,589.8 324.3,588.7 324.8,586.3 325.2,585.4 325.6,583.1 326,579.8 326.4,578.3 326.8,575.8 327.3,573.8 327.7,571.9 328.1,570.7 328.5,569.6 328.9,569.5 329.4,569.3 329.8,568.3 330.2,568.3 330.6,569.8 331,572.1 331.5,573 331.9,573.5 332.3,571.6 332.7,570.6 333.1,567.7 333.5,565.9 334,565.4 334.4,564.5 334.8,563.9 335.2,564.6 335.6,564.8 336.1,565.8 336.5,565.5 336.9,563.9 337.3,565.4 337.7,566.4 338.2,568 338.6,569.2 339,571.7 339.4,573.5 340,574.9" fill="none" stroke="#6cae2c" stroke-width="0.85" stroke-linejoin="round"/>
<polyline points="73,627.5 78.4,627.9 83.9,633.9 89.3,637.9 94.7,633.4 100.1,617.1 105.6,603.3 111,598.9 116.4,591.7 121.9,599.7 127.3,607.8 132.7,590.4 138.1,603.8 143.6,613.8 149,619.8 154.4,612.8 159.9,618.3 165.3,623.3 170.7,611.8 176.1,594.7 181.6,614.3 187,604.3 192.4,581.9 197.9,596.7 203.3,565.9 208.7,612.2 214.1,581.7 219.6,617 225,594.5 230.4,577.6 235.9,609 241.3,599.3 246.7,628.2 252.1,626.8 257.6,614.3 263,587 268.4,603.4 273.9,613.8 279.3,621.6 284.7,612.8 290.1,587.3 295.6,621 301,599.3 306.4,590.5 311.9,602.5 317.3,621 322.7,614.6 328.1,618.6 333.6,586.5 339,610.6" fill="none" stroke="#000" stroke-width="1.3" stroke-dasharray="4.2 2.5" stroke-linejoin="round"/>
<polyline points="35,624.5 40.4,630.4 45.9,633.1 51.3,626.6 56.7,613.8 62.1,626.3 67.6,615.4 73,631.5 78.4,634.7 83.9,626.1 89.3,594.9 94.7,627.4 100.1,629 105.6,621.9 111,591.4 116.4,607 121.9,609.7 127.3,598.7 132.7,624.3 138.1,633 143.6,580.2 149,623.3 154.4,635.6 159.9,578.8 165.3,625 170.7,633.4 176.1,615.4 181.6,620.7 187,556.8 192.4,611.3 197.9,613.5 203.3,593.2 208.7,613.8 214.1,562.7 219.6,634.7 225,588.4 230.4,608.3 235.9,610.6 241.3,585.7 246.7,589.5 252.1,605.3 257.6,599.8 263,567 268.4,608.6 273.9,620 279.3,610 284.7,598.7 290.1,605.8 295.6,606.1 301,619.4 306.4,605.8 311.9,579.3 317.3,580.9 322.7,610.6 328.1,624.7 333.6,612.2 339,611.7" fill="none" stroke="#000" stroke-width="1.3" stroke-linejoin="round"/>
<text x="42" y="539.9" class="pn" textLength="21.8" lengthAdjust="spacingAndGlyphs">PNA</text>
<text x="31.2" y="257" class="yr" style="fill:#ececec">1960</text>
<text x="58.3" y="257" class="yr" style="fill:#ececec">1965</text>
<text x="85.5" y="257" class="yr" style="fill:#ececec">1970</text>
<text x="112.6" y="257" class="yr" style="fill:#ececec">1975</text>
<text x="139.7" y="257" class="yr" style="fill:#ececec">1980</text>
<text x="166.9" y="257" class="yr" style="fill:#ececec">1985</text>
<text x="194" y="257" class="yr" style="fill:#ececec">1990</text>
<text x="221.1" y="257" class="yr" style="fill:#ececec">1995</text>
<text x="248.3" y="257" class="yr" style="fill:#ececec">2000</text>
<text x="275.4" y="257" class="yr" style="fill:#ececec">2005</text>
<text x="302.5" y="257" class="yr" style="fill:#ececec">2010</text>
<text x="329.7" y="257" class="yr" style="fill:#ececec">2015</text>
<text x="31.2" y="645.8" class="yr">1960</text>
<text x="58.3" y="645.8" class="yr">1965</text>
<text x="85.5" y="645.8" class="yr">1970</text>
<text x="112.6" y="645.8" class="yr">1975</text>
<text x="139.7" y="645.8" class="yr">1980</text>
<text x="166.9" y="645.8" class="yr">1985</text>
<text x="194" y="645.8" class="yr">1990</text>
<text x="221.1" y="645.8" class="yr">1995</text>
<text x="248.3" y="645.8" class="yr">2000</text>
<text x="275.4" y="645.8" class="yr">2005</text>
<text x="302.5" y="645.8" class="yr">2010</text>
<text x="329.7" y="645.8" class="yr">2015</text>
<text class="ax" transform="translate(13.2,324.7) rotate(-90)" text-anchor="middle" textLength="100" lengthAdjust="spacingAndGlyphs">Climate Indices</text>
<text class="ax" transform="translate(373.9,324.8) rotate(-90)" text-anchor="middle" textLength="183.6" lengthAdjust="spacingAndGlyphs">Percent of Climate Divisions</text>
<text class="ax" x="164.3" y="665.8" style="font-size:14.6px" textLength="28.6" lengthAdjust="spacingAndGlyphs">Year</text>
</svg>
</body></html>
